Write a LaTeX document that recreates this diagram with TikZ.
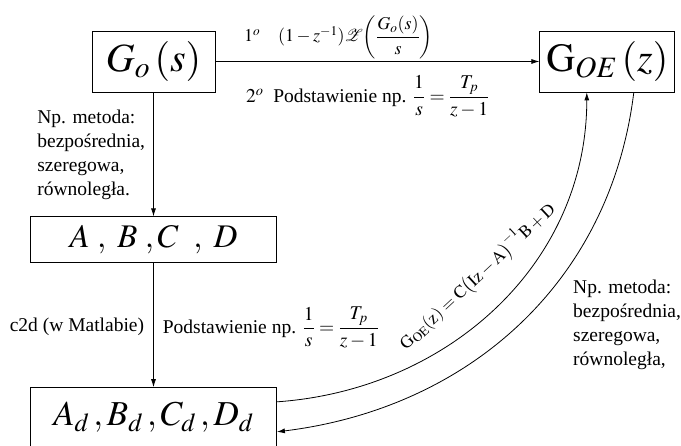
\documentclass[tikz,border=0pt]{standalone}
\usepackage{amsmath}
\usepackage{mathptmx}
\usepackage{mathrsfs}
\usepackage[no-math]{fontspec}
\setmainfont{Liberation Serif}
\usetikzlibrary{arrows.meta, positioning}

\begin{document}
\begin{tikzpicture}[
    x=1pt, y=1pt,
    block/.style={rectangle, draw=black, line width=0.8pt, inner sep=0pt},
    lbl/.style={font=\fontsize{19.5}{24}\selectfont, inner sep=0pt},
    arrow/.style={-{Latex[length=8pt, width=5pt]}, line width=0.8pt}
]
    \useasboundingbox (0,0) rectangle (681,446);

    \node[block, minimum width=123pt, minimum height=61pt, font=\fontsize{40}{48}\selectfont] (Go) at (153.5,384.5) {$G_o\,(s)$};
    \node[block, minimum width=135pt, minimum height=61pt, font=\fontsize{40}{48}\selectfont, right=324pt of Go] (GOE) {$\mathrm{G}_{OE}\,(z)$};
    \node[block, minimum width=246pt, minimum height=46pt, font=\fontsize{33}{40}\selectfont, below=124pt of Go] (ABCD) {$A\;,\;B\;,C\;\;,\;D$};
    \node[block, minimum width=246pt, minimum height=59.5pt, font=\fontsize{35}{42}\selectfont, below=124pt of ABCD] (Ad) {$A_d\,,B_d\,,C_d\,,D_d$};

    \draw[arrow] (Go) -- node[lbl, above=2pt, pos=0.38, font=\fontsize{18}{22}\selectfont] {$1^o\quad(1-z^{-1})\mathscr{Z}\biggl(\dfrac{G_o(s)}{s}\biggr)$}
        node[lbl, below=14pt, pos=0.47] {$2^o$\ \ Podstawienie np. $\dfrac{1}{s}=\dfrac{T_p}{z-1}$} (GOE);
    \draw[arrow] (Go) -- node[lbl, left=8pt, align=left, pos=0.5] {Np. metoda:\\ bezpośrednia,\\ szeregowa,\\ równoległa.} (ABCD);
    \draw[arrow] (ABCD) -- node[lbl, left=9pt, pos=0.51] {c2d (w Matlabie)}
        node[lbl, right=9pt, pos=0.52] {Podstawienie np. $\dfrac{1}{s}=\dfrac{T_p}{z-1}$} (Ad);

    % state space -> transfer function and back
    \draw[arrow] ([yshift=15.5pt]Ad.east) to[out=4, in=-90] ([xshift=-20.5pt]GOE.south);
    \draw[arrow] ([xshift=26.5pt]GOE.south) to[out=-97, in=7] ([yshift=-14.5pt]Ad.east);

    \node[lbl, rotate=43, font=\fontsize{17.5}{21}\selectfont] (gform) at (477,170) {$\mathrm{G_{OE}(z)=C\bigl(Iz-A\bigr)^{-1}B+D}$};
    \node[lbl, align=left, anchor=north west] (methodR) at (573,166) {Np. metoda:\\ bezpośrednia,\\ szeregowa,\\ równoległa,};
\end{tikzpicture}
\end{document}
